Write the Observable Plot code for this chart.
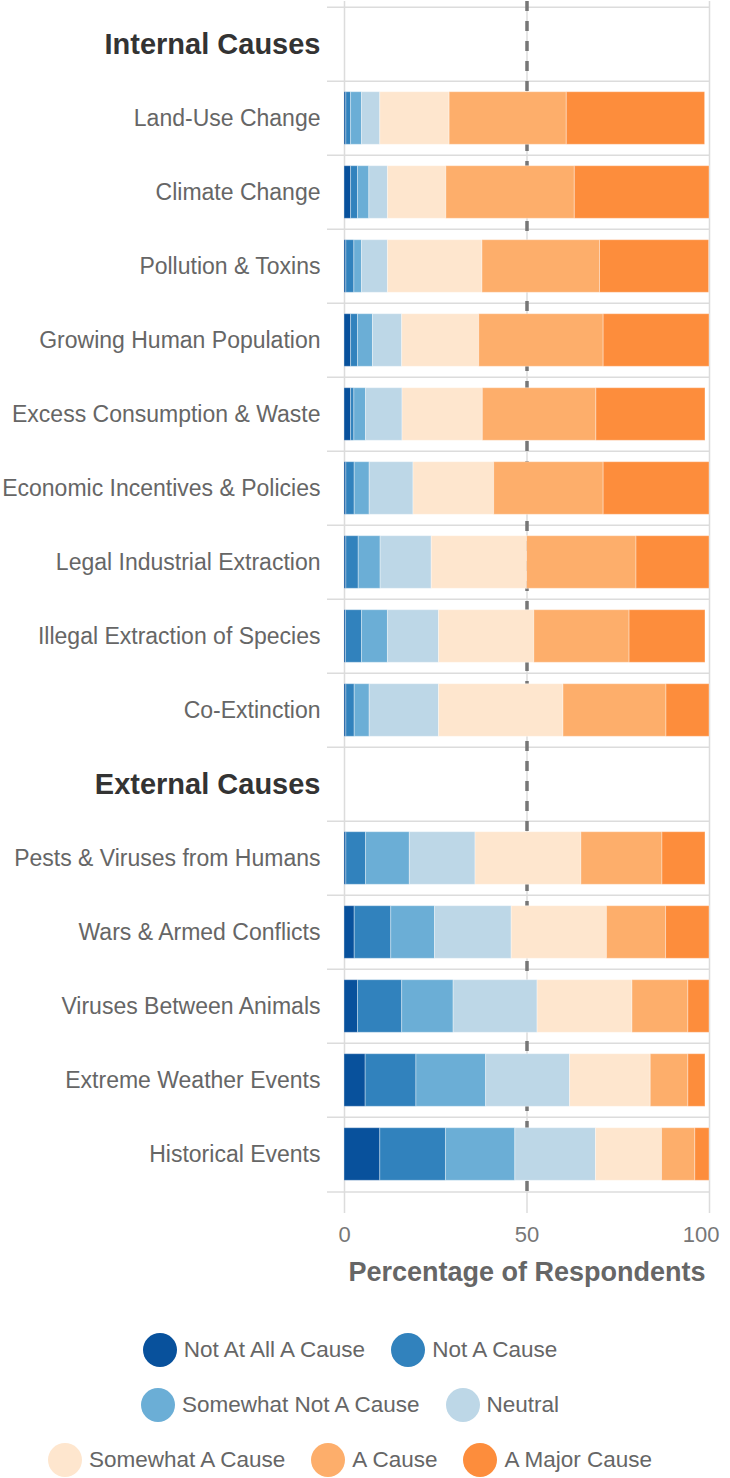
<!DOCTYPE html>
<html>
<head>
<meta charset="utf-8">
<script src="https://cdn.jsdelivr.net/npm/d3@7"></script>
<script src="https://cdn.jsdelivr.net/npm/@observablehq/plot@0.6"></script>
<style>
  html, body { margin: 0; padding: 0; background: #fff; }
  body { width: 730px; height: 1478px; position: relative; font-family: "Liberation Sans", Arial, Helvetica, sans-serif; }
  #chart svg { display: block; }
  #legend { position: absolute; left: 0; top: 1322px; width: 700px; }
  .legend-row { display: flex; justify-content: center; align-items: center; height: 55px; gap: 26px; }
  .legend-item { display: flex; align-items: center; }
  .swatch { width: 34px; height: 34px; border-radius: 50%; margin-right: 7px; flex: none; }
  .legend-label { font-size: 22.5px; color: #666; white-space: nowrap; }
</style>
</head>
<body>
<div id="chart"></div>
<div id="legend"></div>
<script>
// Section headings and the causes listed under each
const headers = ["Internal Causes", "External Causes"];
const internalCauses = [
  "Land-Use Change",
  "Climate Change",
  "Pollution & Toxins",
  "Growing Human Population",
  "Excess Consumption & Waste",
  "Economic Incentives & Policies",
  "Legal Industrial Extraction",
  "Illegal Extraction of Species",
  "Co-Extinction"
];
const externalCauses = [
  "Pests & Viruses from Humans",
  "Wars & Armed Conflicts",
  "Viruses Between Animals",
  "Extreme Weather Events",
  "Historical Events"
];
const causes = [...internalCauses, ...externalCauses];

// Response categories (left to right) and their colours
const responses = [
  "Not At All A Cause",
  "Not A Cause",
  "Somewhat Not A Cause",
  "Neutral",
  "Somewhat A Cause",
  "A Cause",
  "A Major Cause"
];
const responseColors = ["#08519c", "#3182bd", "#6baed6", "#bdd7e7", "#fee6ce", "#fdae6b", "#fd8d3c"];

// Percentage of respondents per cause, one array per response
const notAtAll    = [0.5, 1.8, 0.5, 1.8, 1.8, 0.5, 0.5, 0.4, 0.5, 0.5, 2.8, 3.7, 5.8, 9.8];
const notA        = [1.3, 1.9, 2.2, 1.9, 0.9, 2.3, 3.4, 4.4, 2.3, 5.4, 10.0, 12.1, 13.9, 18.0];
const somewhatNot = [3.0, 3.1, 2.1, 4.1, 3.2, 4.1, 6.0, 7.1, 4.1, 12.0, 12.0, 14.1, 19.1, 19.0];
const neutral     = [5.0, 5.1, 7.1, 8.0, 10.0, 12.0, 14.0, 14.0, 19.0, 18.0, 21.0, 23.0, 23.0, 22.1];
const somewhat    = [19.0, 16.0, 25.9, 21.1, 22.0, 22.1, 26.1, 26.1, 34.1, 29.0, 26.1, 26.0, 22.1, 18.1];
const aCause      = [32.1, 35.2, 32.2, 34.1, 31.1, 30.0, 30.0, 26.1, 28.2, 22.2, 16.2, 15.3, 10.3, 9.1];
const majorCause  = [37.9, 36.9, 29.9, 29.0, 29.9, 29.0, 20.0, 20.8, 11.8, 11.8, 11.9, 5.8, 4.7, 3.9];

const xTicks = [0, 50, 100];
const axisTitle = "Percentage of Respondents";

// Long-format table for the stacked bars
const series = [notAtAll, notA, somewhatNot, neutral, somewhat, aCause, majorCause];
const table = [];
causes.forEach((cause, i) => {
  responses.forEach((response, j) => {
    table.push({cause, response, value: series[j][i]});
  });
});

// Row order: each heading followed by its causes
const rows = [headers[0], ...internalCauses, headers[1], ...externalCauses];

const width = 730;
const height = 1310;
const marginTop = 1;
const marginBottom = 113;
const marginLeft = 344;
const marginRight = 21;
const step = (height - marginTop - marginBottom) / rows.length;
const gridColor = "#dcdcdc";
const tickLabelStyle = {tickSize: 0, tickPadding: 29, fontSize: 22, color: "#777", label: null};

const chart = Plot.plot({
  width,
  height,
  marginTop,
  marginBottom,
  marginLeft,
  marginRight,
  style: {fontFamily: "'Liberation Sans', Arial, Helvetica, sans-serif", background: "#fff"},
  x: {domain: [0, 100], axis: null},
  y: {domain: rows, padding: 0, axis: null},
  color: {domain: responses, range: responseColors},
  marks: [
    // Row separators (band boundaries), reaching a little left of the axis
    Plot.ruleY(rows, {y: d => d, dy: -step / 2, x1: 0, x2: 100, insetLeft: -17, stroke: gridColor, strokeWidth: 1.5}),
    Plot.ruleY(rows.slice(-1), {y: d => d, dy: step / 2, x1: 0, x2: 100, insetLeft: -17, stroke: gridColor, strokeWidth: 1.5}),
    // Vertical grid lines, extended down as tick marks
    Plot.ruleX(xTicks, {stroke: gridColor, strokeWidth: 1.5, insetBottom: -16}),
    // Midpoint reference
    Plot.ruleX([50], {stroke: "#777", strokeWidth: 3.5, strokeDasharray: "10,10"}),
    // Stacked response bars
    Plot.barX(table, {
      y: "cause",
      x: "value",
      fill: "response",
      insetTop: 10.7,
      insetBottom: 10.7,
      stroke: "#fff",
      strokeOpacity: 0.35,
      strokeWidth: 1
    }),
    // Row labels
    Plot.text(causes, {y: d => d, text: d => d, frameAnchor: "left", textAnchor: "end", dx: -24, fontSize: 23, fill: "#666"}),
    Plot.text(headers, {y: d => d, text: d => d, frameAnchor: "left", textAnchor: "end", dx: -24, fontSize: 29, fontWeight: "bold", fill: "#333"}),
    // X axis labels (the last one kept inside the edge) and title
    Plot.axisX({ticks: xTicks.slice(0, -1), ...tickLabelStyle}),
    Plot.axisX({ticks: xTicks.slice(-1), ...tickLabelStyle, textAnchor: "end", dx: 10}),
    Plot.text([axisTitle], {frameAnchor: "bottom", dy: 83, fontSize: 27, fontWeight: "bold", fill: "#666"})
  ]
});
document.getElementById("chart").append(chart);

// Legend rows
const legendRows = [[0, 1], [2, 3], [4, 5, 6]];
const legend = document.getElementById("legend");
legendRows.forEach(indices => {
  const row = document.createElement("div");
  row.className = "legend-row";
  indices.forEach(k => {
    const item = document.createElement("div");
    item.className = "legend-item";
    const sw = document.createElement("span");
    sw.className = "swatch";
    sw.style.background = responseColors[k];
    const label = document.createElement("span");
    label.className = "legend-label";
    label.textContent = responses[k];
    item.append(sw, label);
    row.append(item);
  });
  legend.append(row);
});
</script>
</body>
</html>
